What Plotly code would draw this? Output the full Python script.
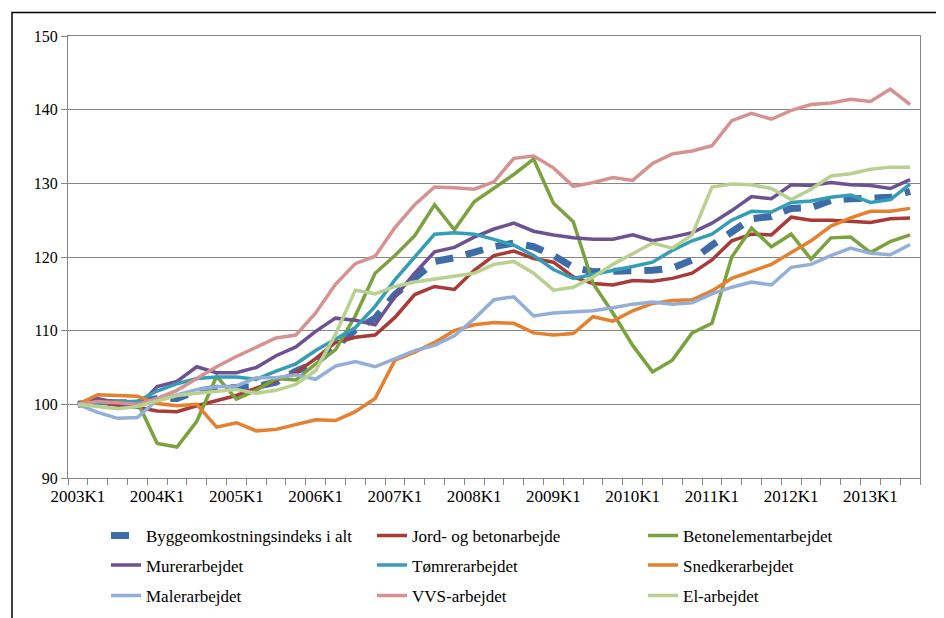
import plotly.graph_objects as go

quarters = [f"{y}K{q}" for y in range(2003, 2014) for q in range(1, 5)][:43]

total = [100, 100.3, 100.2, 100.2, 100.8, 100.8, 101.8, 102.2, 102.3, 102.4, 103.0, 104.5, 105.6, 107.7,
         110.1, 111.7, 114.9, 117.1, 119.4, 119.9, 120.7, 121.4, 121.9, 121.4, 120.2, 118.6, 118.0, 118.0,
         118.1, 118.2, 118.5, 119.6, 121.6, 123.5, 125.2, 125.5, 126.6, 126.7, 127.7, 127.9, 128.0, 128.1, 128.9]
jord = [100, 100.2, 99.9, 99.6, 99.1, 99.0, 99.8, 100.5, 101.2, 102.2, 103.2, 104.3, 106.2, 108.4,
        109.1, 109.4, 111.8, 114.9, 116.0, 115.6, 118.2, 120.2, 120.8, 119.8, 119.3, 117.3, 116.4, 116.2,
        116.8, 116.7, 117.1, 117.8, 119.6, 122.2, 123.1, 123.0, 125.4, 125.0, 125.0, 124.9, 124.7, 125.2, 125.3]
beton = [100, 100.3, 100.3, 100.4, 94.7, 94.2, 97.7, 103.8, 100.7, 101.9, 103.5, 103.3, 105.5, 107.4,
         112.0, 117.8, 120.2, 122.9, 127.1, 123.7, 127.5, 129.3, 131.2, 133.3, 127.3, 124.8, 116.4, 112.4,
         108.0, 104.4, 106.0, 109.7, 111.0, 120.0, 123.9, 121.4, 123.1, 119.7, 122.6, 122.7, 120.6, 122.1, 123.0]
murer = [100, 100.8, 100.2, 99.6, 102.4, 103.1, 105.1, 104.3, 104.3, 105.0, 106.6, 107.8, 109.9, 111.7,
         111.4, 110.8, 114.6, 117.8, 120.7, 121.3, 122.7, 123.8, 124.6, 123.5, 123.0, 122.6, 122.4, 122.4,
         123.0, 122.2, 122.7, 123.3, 124.6, 126.3, 128.2, 127.9, 129.8, 129.7, 130.1, 129.8, 129.7, 129.3, 130.5]
toemrer = [100, 100.1, 100.2, 100.4, 101.8, 102.8, 103.5, 103.7, 103.7, 103.4, 104.5, 105.5, 107.3, 108.9,
           110.4, 113.3, 116.9, 120.0, 123.1, 123.3, 123.1, 122.4, 121.6, 120.2, 118.3, 117.1, 117.6, 118.2,
           118.7, 119.3, 120.9, 122.2, 123.1, 125.0, 126.2, 126.1, 127.4, 127.6, 128.1, 128.4, 127.4, 127.8, 129.9]
snedker = [100, 101.3, 101.2, 101.1, 100.1, 99.8, 100.0, 96.9, 97.5, 96.4, 96.6, 97.2, 97.9, 97.8,
           99.0, 100.8, 106.0, 107.1, 108.4, 110.0, 110.8, 111.1, 111.0, 109.7, 109.4, 109.6, 111.9, 111.3,
           112.7, 113.7, 114.1, 114.2, 115.4, 117.1, 118.0, 119.0, 120.6, 122.2, 124.2, 125.3, 126.2, 126.2, 126.6]
maler = [100, 98.9, 98.1, 98.2, 100.6, 101.3, 102.0, 102.4, 102.5, 103.6, 103.6, 104.0, 103.4, 105.2,
         105.8, 105.1, 106.2, 107.3, 108.0, 109.3, 111.6, 114.2, 114.6, 112.0, 112.4, 112.5, 112.7, 113.1,
         113.6, 113.9, 113.6, 113.8, 115.0, 115.9, 116.6, 116.2, 118.6, 119.0, 120.2, 121.2, 120.5, 120.3, 121.7]
vvs = [100, 100.4, 100.2, 100.0, 100.8, 101.9, 103.5, 105.1, 106.5, 107.8, 109.0, 109.4, 112.4, 116.3,
       119.1, 120.1, 124.0, 127.1, 129.5, 129.4, 129.2, 130.2, 133.4, 133.7, 132.1, 129.6, 130.1, 130.8,
       130.4, 132.7, 134.0, 134.4, 135.1, 138.5, 139.5, 138.7, 139.9, 140.7, 140.9, 141.4, 141.1, 142.8, 140.7]
el = [100, 99.7, 99.4, 99.7, 100.5, 101.2, 101.5, 101.7, 102.0, 101.5, 101.9, 102.7, 104.6, 109.5,
      115.5, 115.0, 116.0, 116.6, 117.0, 117.4, 117.8, 119.0, 119.4, 117.8, 115.5, 115.9, 117.3, 119.0,
      120.4, 121.9, 121.2, 123.0, 129.5, 129.9, 129.8, 129.3, 127.8, 129.2, 131.0, 131.3, 131.9, 132.2, 132.2]

names = ["Byggeomkostningsindeks i alt", "Jord- og betonarbejde", "Betonelementarbejdet",
         "Murerarbejdet", "Tømrerarbejdet", "Snedkerarbejdet",
         "Malerarbejdet", "VVS-arbejdet", "El-arbejdet"]
series = [total, jord, beton, murer, toemrer, snedker, maler, vvs, el]
colors = ["#3D6CA8", "#A83B38", "#7AA23E", "#6C5193", "#359DB5", "#E5802F",
          "#93AFD9", "#D69290", "#B8D191"]

W, H = 944, 618
L, R, T, B = 60, 912, 28, 478
pw, ph = R - L, B - T

def px(x):
    return (x - L) / pw

def py(y):
    return (B - y) / ph

fam = "Liberation Serif, 'Times New Roman', serif"
font = dict(family=fam, size=17, color="#000000")
yfont = dict(family=fam, size=16, color="#000000")
grey = "#868686"

xs = list(range(len(quarters)))
fig = go.Figure()
col_text_x = [146, 412, 683]
row_y = [537, 567, 598]
legends = {}
for i, (nm, vals, col) in enumerate(zip(names, series, colors)):
    if i == 0:
        line = dict(color=col, width=7, dash="18px,13px")
    else:
        line = dict(color=col, width=3.5)
    lid = "legend" if i == 0 else f"legend{i + 1}"
    fig.add_trace(go.Scatter(x=xs, y=vals, name=nm, mode="lines", line=line,
                             legend=lid, hoverinfo="skip"))
    r, c = divmod(i, 3)
    legends[lid] = dict(orientation="h", xanchor="left", yanchor="middle",
                        x=px(col_text_x[c] - 48), y=py(row_y[r]), font=font,
                        bgcolor="rgba(0,0,0,0)")

fig.update_layout(
    width=W, height=H,
    margin=dict(l=L, r=W - R, t=T, b=H - B, pad=0),
    paper_bgcolor="white", plot_bgcolor="white",
    font=font,
    showlegend=True,
    xaxis=dict(range=[-0.5, len(quarters) - 0.5], tickmode="array",
               tickvals=xs[::4], ticktext=quarters[::4], ticks="",
               showline=True, linecolor=grey, linewidth=1, mirror=True,
               showgrid=False, zeroline=False, tickfont=font,
               ticklabelstandoff=3,
               minor=dict(tickmode="linear", tick0=-0.5, dtick=1, ticks="outside",
                          ticklen=6, tickcolor=grey, tickwidth=1, showgrid=False)),
    yaxis=dict(range=[90, 150], dtick=10, tick0=90, ticks="outside", ticklen=6,
               tickcolor=grey, showline=True, linecolor=grey, linewidth=1, mirror=True,
               showgrid=True, gridcolor=grey, gridwidth=1, zeroline=False, tickfont=yfont),
    **legends,
)

# outer chart frame
fig.add_shape(type="rect", xref="paper", yref="paper",
              x0=px(4), x1=px(937), y0=py(625), y1=py(4),
              line=dict(color="#000000", width=1.5), fillcolor="rgba(0,0,0,0)", layer="below")

fig.write_html("out.html")
